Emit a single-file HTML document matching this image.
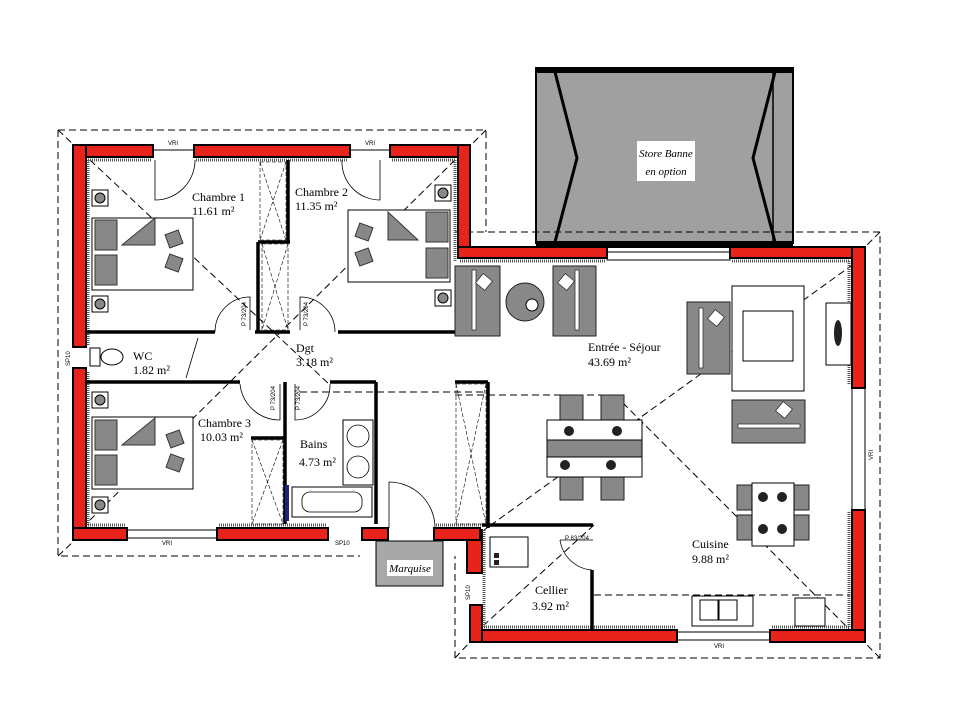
<!DOCTYPE html>
<html><head><meta charset="utf-8"><style>
html,body{margin:0;padding:0;background:#fff;}
svg{display:block;}
text{font-family:"Liberation Serif",serif;fill:#000;}
.sm{font-family:"Liberation Sans",sans-serif;font-size:6px;}
</style></head><body>
<svg width="960" height="724" viewBox="0 0 960 724" xmlns="http://www.w3.org/2000/svg">
<!-- Awning -->
<rect x="536" y="68" width="257" height="175" fill="#a0a0a0" stroke="#000" stroke-width="2"/>
<rect x="536" y="68" width="257" height="5" fill="#000"/>
<polyline points="555,72 577,158 555,242" fill="none" stroke="#000" stroke-width="3"/>
<polyline points="775,72 753,158 775,242" fill="none" stroke="#000" stroke-width="3"/>
<line x1="773" y1="72" x2="773" y2="242" stroke="#000" stroke-width="1.5"/>
<rect x="536" y="241" width="257" height="7" fill="#000"/>
<rect x="637" y="141" width="58" height="40" fill="#fff"/>
<text x="666" y="157" font-size="11" text-anchor="middle" font-style="italic">Store Banne</text>
<text x="666" y="175" font-size="11" text-anchor="middle" font-style="italic">en option</text>

<!-- Roof dashed outlines -->
<g fill="none" stroke="#000" stroke-width="1" stroke-dasharray="7,4">
<polyline points="58,130 486,130 486,232"/>
<polyline points="58,130 58,556 360,556"/>
<polyline points="455,232 880,232 880,658 455,658 455,556"/>
<line x1="58" y1="130" x2="75" y2="146"/><line x1="486" y1="130" x2="470" y2="146"/>
<line x1="58" y1="556" x2="75" y2="540"/><line x1="880" y1="232" x2="864" y2="248"/>
<line x1="880" y1="658" x2="864" y2="642"/><line x1="455" y1="658" x2="470" y2="642"/>
<line x1="90" y1="160" x2="330" y2="385"/>
<line x1="455" y1="160" x2="90" y2="520"/>
<line x1="862" y1="258" x2="484" y2="530"/>
<line x1="615" y1="395" x2="850" y2="630"/>
<line x1="594" y1="525" x2="484" y2="625"/>
<line x1="300" y1="392" x2="486" y2="392"/>
<line x1="455" y1="395" x2="615" y2="395"/>
<line x1="594" y1="595" x2="850" y2="595"/>
</g>

<!-- Exterior walls -->
<g fill="#e8231b" stroke="#000" stroke-width="2">
<rect x="73" y="145" width="80" height="12"/>
<rect x="194" y="145" width="156" height="12"/>
<rect x="390" y="145" width="80" height="12"/>
<rect x="73" y="145" width="13" height="202"/>
<rect x="73" y="368" width="13" height="172"/>
<rect x="458" y="145" width="12" height="110"/>
<rect x="458" y="247" width="149" height="11"/>
<rect x="730" y="247" width="135" height="11"/>
<rect x="852" y="247" width="13" height="141"/>
<rect x="852" y="510" width="13" height="132"/>
<rect x="770" y="630" width="95" height="12"/>
<rect x="470" y="630" width="207" height="12"/>
<rect x="470" y="605" width="12" height="37"/>
<rect x="467" y="530" width="15" height="43"/>
<rect x="434" y="528" width="46" height="12"/>
<rect x="73" y="528" width="54" height="12"/>
<rect x="217" y="528" width="111" height="12"/>
<rect x="362" y="528" width="26" height="12"/>
</g>
<g stroke="#555" stroke-width="3" stroke-dasharray="1,1">
<line x1="88" y1="160" x2="152" y2="160"/><line x1="196" y1="160" x2="348" y2="160"/><line x1="392" y1="160" x2="455" y2="160"/>
<line x1="88" y1="160" x2="88" y2="345"/><line x1="88" y1="372" x2="88" y2="525"/>
<line x1="455" y1="160" x2="455" y2="262"/>
<line x1="460" y1="261" x2="605" y2="261"/><line x1="732" y1="261" x2="849" y2="261"/>
<line x1="849" y1="261" x2="849" y2="385"/><line x1="849" y1="512" x2="849" y2="627"/>
<line x1="484" y1="627" x2="675" y2="627"/><line x1="772" y1="627" x2="849" y2="627"/>
<line x1="484" y1="530" x2="484" y2="627"/>
<line x1="88" y1="525" x2="125" y2="525"/><line x1="219" y1="525" x2="326" y2="525"/><line x1="436" y1="525" x2="485" y2="525"/>
</g>
<g fill="none" stroke="#000" stroke-width="1">
<line x1="153" y1="150" x2="194" y2="150"/><line x1="350" y1="150" x2="390" y2="150"/>
<rect x="607" y="252" width="123" height="8"/><rect x="852" y="388" width="13" height="122"/>
<rect x="677" y="632" width="93" height="8"/><rect x="127" y="530" width="90" height="8"/>
</g>
<text class="sm" x="168" y="145">VRI</text><text class="sm" x="365" y="145">VRI</text>
<text class="sm" x="662" y="247">VRI</text><text class="sm" x="714" y="648">VRI</text>
<text class="sm" x="162" y="545">VRI</text><text class="sm" x="335" y="545">SP10</text>
<text class="sm" x="70" y="366" transform="rotate(-90 70 366)">SP10</text>
<text class="sm" x="470" y="600" transform="rotate(-90 470 600)">SP10</text>
<text class="sm" x="873" y="460" transform="rotate(-90 873 460)">VRI</text>

<!-- Interior walls -->
<g stroke="#000" stroke-width="3.5" fill="none">
<line x1="86" y1="332" x2="215" y2="332"/>
<line x1="255" y1="332" x2="290" y2="332"/>
<line x1="338" y1="332" x2="455" y2="332"/>
<line x1="288" y1="160" x2="288" y2="242"/>
<line x1="258" y1="242" x2="290" y2="242"/>
<line x1="258" y1="242" x2="258" y2="332"/>
<line x1="86" y1="382" x2="240" y2="382"/>
<line x1="330" y1="382" x2="376" y2="382"/>
<line x1="376" y1="382" x2="376" y2="524"/>
<line x1="285" y1="382" x2="285" y2="524"/>
<line x1="251" y1="438" x2="285" y2="438"/>
<line x1="455" y1="382" x2="488" y2="382"/>
<line x1="488" y1="382" x2="488" y2="528"/>
<line x1="482" y1="525" x2="593" y2="525"/>
<line x1="592" y1="570" x2="592" y2="630"/>
</g>
<g stroke="#000" stroke-width="0.6" fill="none" stroke-dasharray="4,2">
<rect x="260" y="162" width="26" height="78"/><line x1="260" y1="162" x2="286" y2="240"/><line x1="286" y1="162" x2="260" y2="240"/>
<rect x="262" y="244" width="26" height="86"/><line x1="262" y1="244" x2="288" y2="330"/><line x1="288" y1="244" x2="262" y2="330"/>
<rect x="252" y="440" width="31" height="84"/><line x1="252" y1="440" x2="283" y2="524"/><line x1="283" y1="440" x2="252" y2="524"/>
<rect x="456" y="384" width="30" height="140"/><line x1="456" y1="384" x2="486" y2="524"/><line x1="486" y1="384" x2="456" y2="524"/>
</g>
<g stroke="#000" stroke-width="0.8" fill="none">
<path d="M155 160 L155 200 A40 40 0 0 0 195 160"/>
<path d="M380 160 L380 200 A38 38 0 0 1 342 160"/>
<path d="M250 330 L250 297 A35 35 0 0 0 215 332"/>
<path d="M300 330 L300 297 A35 35 0 0 1 335 332"/>
<path d="M280 384 L280 420 A40 40 0 0 1 240 384"/>
<path d="M295 384 L295 420 A35 35 0 0 0 330 384"/>
<path d="M389 528 L389 482 A46 46 0 0 1 435 528"/>
<path d="M560 540 L593 540 M560 540 A35 35 0 0 0 592 570"/>
<line x1="198" y1="338" x2="186" y2="378"/>
</g>
<text class="sm" x="246" y="326" transform="rotate(-90 246 326)">P 73/204</text>
<text class="sm" x="308" y="326" transform="rotate(-90 308 326)">P 73/204</text>
<text class="sm" x="275" y="410" transform="rotate(-90 275 410)">P 73/204</text>
<text class="sm" x="300" y="410" transform="rotate(-90 300 410)">P 73/204</text>
<text class="sm" x="565" y="540">P 83/204</text>

<!-- Marquise -->
<rect x="376" y="541" width="67" height="45" fill="#a8a8a8" stroke="#000"/>
<rect x="387" y="560" width="46" height="16" fill="#fff"/>
<text x="410" y="572" font-size="11" text-anchor="middle" font-style="italic">Marquise</text>

<!-- Beds -->
<g fill="#888" stroke="#333" stroke-width="1">
<rect x="92" y="218" width="101" height="72" fill="#fff" stroke="#000"/>
<rect x="95" y="220" width="22" height="30"/><rect x="95" y="255" width="22" height="30"/>
<polygon points="122,245 155,218 155,245"/>
<rect x="348" y="210" width="102" height="72" fill="#fff" stroke="#000"/>
<rect x="426" y="212" width="22" height="30"/><rect x="426" y="248" width="22" height="30"/>
<polygon points="388,212 388,240 418,240"/>
<rect x="92" y="417" width="101" height="72" fill="#fff" stroke="#000"/>
<rect x="95" y="420" width="22" height="30"/><rect x="95" y="455" width="22" height="30"/>
<polygon points="122,445 155,418 155,445"/>
<rect x="167" y="232" width="14" height="14" transform="rotate(-20 174 239)"/>
<rect x="167" y="256" width="14" height="14" transform="rotate(20 174 263)"/>
<rect x="357" y="225" width="14" height="14" transform="rotate(20 364 232)"/>
<rect x="357" y="250" width="14" height="14" transform="rotate(-20 364 257)"/>
<rect x="168" y="432" width="14" height="14" transform="rotate(-20 175 439)"/>
<rect x="168" y="456" width="14" height="14" transform="rotate(20 175 463)"/>
</g>
<g fill="#fff" stroke="#000"><rect x="92" y="190" width="16" height="16"/><rect x="92" y="296" width="16" height="16"/>
<rect x="435" y="185" width="16" height="16"/><rect x="435" y="290" width="16" height="16"/>
<rect x="92" y="392" width="16" height="16"/><rect x="92" y="497" width="16" height="16"/></g>
<g fill="#888" stroke="#000"><circle cx="100" cy="198" r="5"/><circle cx="100" cy="304" r="5"/><circle cx="443" cy="193" r="5"/><circle cx="443" cy="298" r="5"/><circle cx="100" cy="400" r="5"/><circle cx="100" cy="505" r="5"/></g>
<rect x="90" y="348" width="10" height="18" fill="#fff" stroke="#000"/>
<ellipse cx="112" cy="357" rx="11" ry="8" fill="#fff" stroke="#000"/>

<!-- Living furniture -->
<g fill="#888" stroke="#222">
<rect x="455" y="266" width="45" height="70"/>
<rect x="553" y="266" width="43" height="70"/>
<rect x="687" y="302" width="43" height="72"/>
<rect x="732" y="400" width="73" height="43"/>
<circle cx="525" cy="302" r="19"/>
<rect x="560" y="395" width="23" height="105"/><rect x="601" y="395" width="23" height="105"/>
<rect x="737" y="485" width="72" height="25"/><rect x="737" y="515" width="72" height="25"/>
</g>
<g fill="#fff" stroke="#333" stroke-width="0.8">
<rect x="472" y="270" width="4" height="60"/><rect x="575" y="270" width="4" height="60"/>
<rect x="699" y="308" width="4" height="60"/><rect x="738" y="424" width="62" height="4"/>
<rect x="478" y="276" width="12" height="12" transform="rotate(40 484 282)"/>
<rect x="560" y="276" width="12" height="12" transform="rotate(40 566 282)"/>
<rect x="710" y="312" width="12" height="12" transform="rotate(40 716 318)"/>
<rect x="778" y="404" width="12" height="12" transform="rotate(40 784 410)"/>
</g>
<circle cx="532" cy="305" r="6" fill="#fff" stroke="#000"/>
<g fill="#fff" stroke="#000"><rect x="732" y="286" width="72" height="105"/><rect x="743" y="311" width="50" height="50"/>
<rect x="547" y="420" width="95" height="57"/><rect x="752" y="483" width="42" height="63"/>
<rect x="826" y="303" width="25" height="62"/><rect x="490" y="537" width="38" height="30"/>
<rect x="692" y="596" width="61" height="30"/><rect x="795" y="598" width="30" height="28"/>
<rect x="343" y="420" width="30" height="65"/><rect x="292" y="487" width="80" height="30"/></g>
<rect x="547" y="440" width="95" height="17" fill="#888" stroke="#000"/>
<ellipse cx="838" cy="333" rx="4" ry="13" fill="#222"/>
<g fill="#fff" stroke="#000"><rect x="700" y="600" width="18" height="20"/><rect x="719" y="600" width="18" height="20"/></g>
<g fill="#222"><circle cx="569" cy="431" r="5"/><circle cx="617" cy="431" r="5"/><circle cx="565" cy="465" r="5"/><circle cx="611" cy="465" r="5"/>
<circle cx="763" cy="497" r="5"/><circle cx="782" cy="497" r="5"/><circle cx="763" cy="529" r="5"/><circle cx="782" cy="529" r="5"/>
<rect x="494" y="553" width="5" height="5"/><rect x="494" y="560" width="5" height="5"/></g>
<g fill="none" stroke="#000" stroke-width="0.8"><circle cx="358" cy="436" r="11"/><circle cx="358" cy="467" r="11"/><rect x="302" y="492" width="60" height="20" rx="8"/></g>
<rect x="285" y="485" width="4" height="36" fill="#1a237e"/>

<!-- Labels -->
<g font-size="12">
<text x="192" y="201">Chambre 1</text><text x="192" y="215">11.61 m²</text>
<text x="295" y="196">Chambre 2</text><text x="295" y="210">11.35 m²</text>
<text x="133" y="360">WC</text><text x="133" y="374">1.82 m²</text>
<text x="296" y="352">Dgt</text><text x="296" y="366">3.18 m²</text>
<text x="198" y="427">Chambre 3</text><text x="200" y="441">10.03 m²</text>
<text x="300" y="448">Bains</text><text x="299" y="466">4.73 m²</text>
<text x="588" y="351">Entrée - Séjour</text><text x="588" y="366">43.69 m²</text>
<text x="692" y="548">Cuisine</text><text x="692" y="563">9.88 m²</text>
<text x="535" y="594">Cellier</text><text x="532" y="610">3.92 m²</text>
</g>
</svg>
</body></html>
